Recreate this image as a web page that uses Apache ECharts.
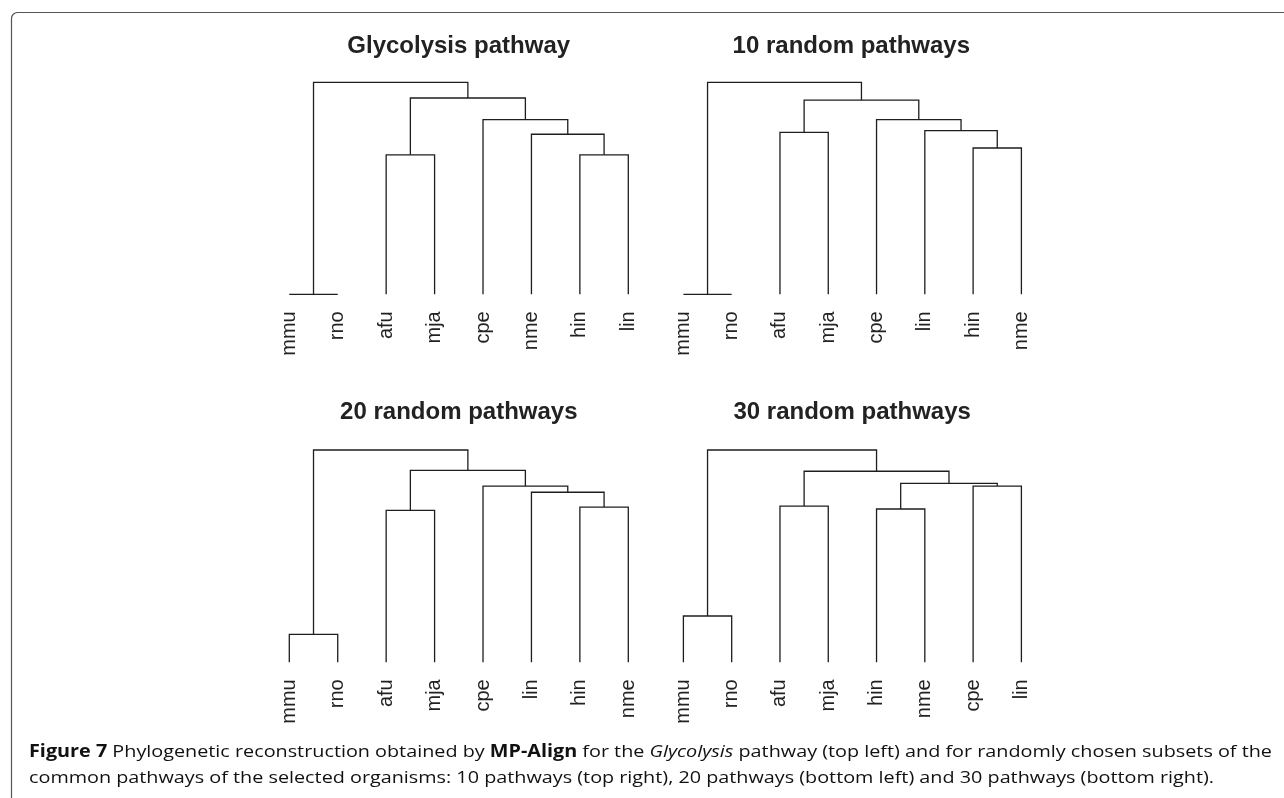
<!DOCTYPE html>
<html>
<head>
<meta charset="utf-8">
<style>
  html, body { margin: 0; padding: 0; background: #fff; }
  #chart { width: 1284px; height: 798px; }
</style>
</head>
<body>
<div id="chart"></div>
<script src="https://cdn.jsdelivr.net/npm/echarts@6/dist/echarts.min.js"></script>
<script>
// leaf order (left to right) of each dendrogram
const leaves1 = ['mmu', 'rno', 'afu', 'mja', 'cpe', 'nme', 'hin', 'lin'];
const leaves2 = ['mmu', 'rno', 'afu', 'mja', 'cpe', 'lin', 'hin', 'nme'];
const leaves3 = ['mmu', 'rno', 'afu', 'mja', 'cpe', 'lin', 'hin', 'nme'];
const leaves4 = ['mmu', 'rno', 'afu', 'mja', 'hin', 'nme', 'cpe', 'lin'];

// hclust-style merges: negative = leaf (1-based in leaf order), positive = earlier merge
const merge1 = [[-1, -2], [-3, -4], [-7, -8], [-6, 3], [-5, 4], [2, 5], [1, 6]];
const merge2 = [[-1, -2], [-7, -8], [-3, -4], [-6, 2], [-5, 4], [3, 5], [1, 6]];
const merge3 = [[-1, -2], [-3, -4], [-7, -8], [-6, 3], [-5, 4], [2, 5], [1, 6]];
const merge4 = [[-1, -2], [-5, -6], [-3, -4], [-7, -8], [2, 4], [3, 5], [1, 6]];

// merge heights (relative to the root)
const height1 = [0, 0.658, 0.658, 0.755, 0.824, 0.926, 1.0];
const height2 = [0, 0.690, 0.764, 0.772, 0.824, 0.916, 1.0];
const height3 = [0.132, 0.716, 0.731, 0.801, 0.830, 0.904, 1.0];
const height4 = [0.218, 0.722, 0.736, 0.830, 0.843, 0.900, 1.0];

const titles = ['Glycolysis pathway', '10 random pathways', '20 random pathways', '30 random pathways'];

const captionLine1 = '{b|Figure 7} Phylogenetic reconstruction obtained by {b|MP-Align} for the {i|Glycolysis} pathway (top left) and for randomly chosen subsets of the';
const captionLine2 = 'common pathways of the selected organisms: 10 pathways (top right), 20 pathways (bottom left) and 30 pathways (bottom right).';

const panels = [
  { leaves: leaves1, merge: merge1, height: height1, grid: { left: 289.3, top: 82.3, width: 339, height: 212 }, tx: 458.7, ty: 46 },
  { leaves: leaves2, merge: merge2, height: height2, grid: { left: 683.4, top: 82.3, width: 338, height: 212 }, tx: 851.3, ty: 46 },
  { leaves: leaves3, merge: merge3, height: height3, grid: { left: 289.3, top: 450, width: 339, height: 212.3 }, tx: 458.8, ty: 412.5 },
  { leaves: leaves4, merge: merge4, height: height4, grid: { left: 683.4, top: 450, width: 338, height: 212.3 }, tx: 852.2, ty: 412.5 }
];

// turn merges into U-shaped links: [xLeft, xRight, hLeft, hRight, h]
function buildLinks (merge, height) {
  const xs = [];
  const links = [];
  const pos = (id) => id < 0 ? [-id - 1, 0] : [xs[id - 1], height[id - 1]];
  merge.forEach((m, i) => {
    const a = pos(m[0]);
    const b = pos(m[1]);
    xs.push((a[0] + b[0]) / 2);
    links.push([a[0], b[0], a[1], b[1], height[i]]);
  });
  return links;
}

const chart = echarts.init(document.getElementById('chart'));

const grid = [];
const xAxis = [];
const yAxis = [];
const series = [];
const graphic = [];

panels.forEach((p, k) => {
  grid.push(Object.assign({ containLabel: false }, p.grid));
  xAxis.push({
    type: 'value',
    gridIndex: k,
    min: 0,
    max: 7,
    interval: 1,
    axisLine: { show: false },
    axisTick: { show: false },
    splitLine: { show: false },
    axisLabel: {
      rotate: 90,
      margin: 17,
      fontSize: 20,
      color: '#222',
      fontFamily: 'Arial',
      formatter: (v) => p.leaves[v] || ''
    }
  });
  yAxis.push({ type: 'value', gridIndex: k, min: 0, max: 1, show: false });
  series.push({
    type: 'custom',
    xAxisIndex: k,
    yAxisIndex: k,
    silent: true,
    clip: false,
    encode: { x: [0, 1], y: [2, 3, 4] },
    data: buildLinks(p.merge, p.height),
    renderItem: (params, api) => {
      const xl = api.value(0), xr = api.value(1);
      const hl = api.value(2), hr = api.value(3), h = api.value(4);
      return {
        type: 'polyline',
        shape: { points: [api.coord([xl, hl]), api.coord([xl, h]), api.coord([xr, h]), api.coord([xr, hr])] },
        style: { stroke: '#1e1e1e', lineWidth: 1.3, fill: null }
      };
    }
  });
  graphic.push({
    type: 'text',
    x: p.tx,
    y: p.ty,
    style: {
      text: titles[k],
      align: 'center',
      verticalAlign: 'middle',
      font: 'bold 24px Arial, sans-serif',
      fill: '#222'
    }
  });
});

// figure frame and caption
graphic.push({
  type: 'rect',
  shape: { x: 11.5, y: 12.5, width: 1320, height: 820, r: 6 },
  style: { fill: null, stroke: '#555', lineWidth: 1.2 }
});
const captionRich = {
  b: { fontWeight: 'bold', fontSize: 17, fontFamily: 'Open Sans', fill: '#111' },
  i: { fontStyle: 'italic', fontSize: 17, fontFamily: 'Open Sans', fill: '#111' }
};
[captionLine1, captionLine2].forEach((line, i) => {
  graphic.push({
    type: 'text',
    x: 29,
    y: 752.5 + i * 26,
    scaleX: 1.164,
    style: {
      text: line,
      verticalAlign: 'middle',
      fontSize: 17,
      fontFamily: 'Open Sans',
      fill: '#111',
      rich: captionRich
    }
  });
});

chart.setOption({
  animation: false,
  grid: grid,
  xAxis: xAxis,
  yAxis: yAxis,
  series: series,
  graphic: graphic
});
</script>
</body>
</html>
